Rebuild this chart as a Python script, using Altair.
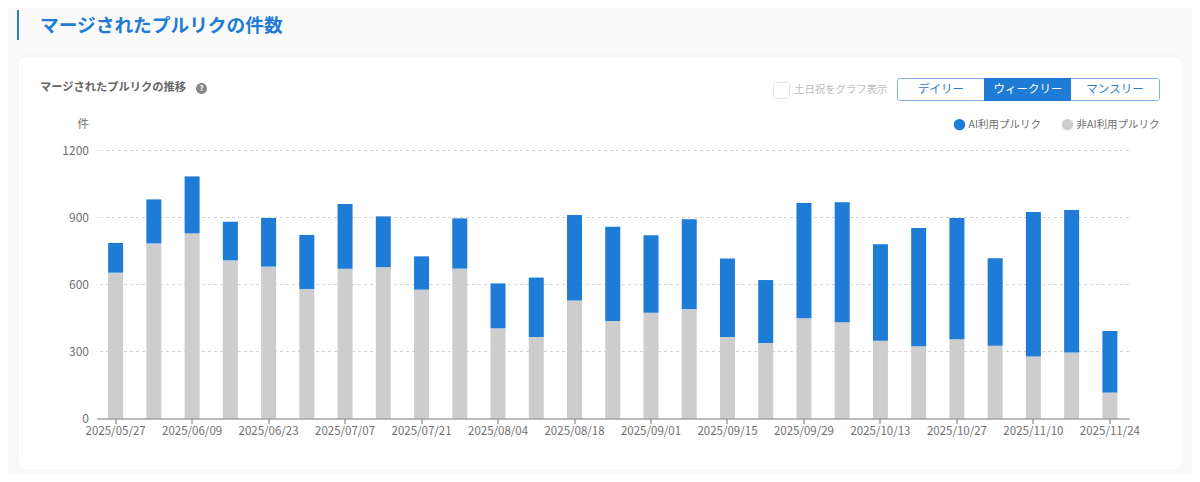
import altair as alt
import pandas as pd

FONT = "Noto Sans CJK JP"
PL, PT = 96.5, 150.5      # plot area's top-left in the picture
PW, PH = 1032.5, 268

weeks = ["2025/05/27","2025/06/02","2025/06/09","2025/06/16","2025/06/23","2025/06/30","2025/07/07",
         "2025/07/14","2025/07/21","2025/07/28","2025/08/04","2025/08/11","2025/08/18","2025/08/25",
         "2025/09/01","2025/09/08","2025/09/15","2025/09/22","2025/09/29","2025/10/06","2025/10/13",
         "2025/10/20","2025/10/27","2025/11/03","2025/11/10","2025/11/17","2025/11/24"]
non_ai = [653,784,829,708,680,580,671,678,577,671,404,365,528,437,474,490,365,338,449,431,348,323,355,326,278,296,116]
ai = [133,197,255,173,218,242,289,227,149,225,201,266,383,422,346,402,351,282,516,537,432,530,543,391,647,638,276]
y_ticks = [0, 300, 600, 900, 1200]
grid_values = [300, 600, 900, 1200]
AI_NAME = "AI利用プルリク"
NON_NAME = "非AI利用プルリク"

rows = []
for w, n, a in zip(weeks, non_ai, ai):
    rows.append({"week": w, "series": NON_NAME, "value": n, "o": 0})
    rows.append({"week": w, "series": AI_NAME, "value": a, "o": 1})
df = pd.DataFrame(rows)

y_scale = alt.Scale(domain=[0, 1200], nice=False)
y_axis = alt.Axis(values=y_ticks, format="d", labelFont=FONT, labelFontSize=12, labelColor="#707070",
                  domain=False, ticks=False, labelPadding=8, grid=False, zindex=1)

grid = alt.Chart(pd.DataFrame({"g": grid_values})).mark_rule(
    color="#d4d4d4", strokeDash=[3, 3], strokeWidth=1
).encode(y=alt.Y("g:Q", scale=y_scale, axis=y_axis, title=None))

bars = alt.Chart(df).mark_bar(size=15).encode(
    x=alt.X("week:N", sort=weeks, title=None,
            scale=alt.Scale(domain=weeks, paddingInner=0, paddingOuter=0),
            axis=alt.Axis(values=weeks[::2], labelAngle=0, labelFont=FONT, labelFontSize=11.5, labelColor="#707070",
                          labelPadding=2, tickColor="#777777", tickSize=5, domainColor="#777777", grid=False,
                          labelOverlap=False, labelFlush=False, zindex=1)),
    y=alt.Y("value:Q", stack="zero", title=None, scale=y_scale, axis=y_axis),
    color=alt.Color("series:N",
                    scale=alt.Scale(domain=[AI_NAME, NON_NAME], range=["#1e7bd6", "#cdcdcd"]),
                    legend=alt.Legend(title=None, orient="none", legendX=953.5 - PL, legendY=118.5 - PT,
                                      direction="horizontal", symbolType="circle", symbolSize=130,
                                      symbolStrokeWidth=0, labelFont=FONT, labelFontSize=10.5,
                                      labelColor="#707070", columnPadding=20, labelOffset=3, padding=0)),
    order=alt.Order("o:Q"),
)

def box(x, y, w, h, fill, stroke=None, sw=1, r=0):
    kw = dict(fill=fill, cornerRadius=r)
    if stroke:
        kw.update(stroke=stroke, strokeWidth=sw)
    return alt.Chart(pd.DataFrame({"a": [0]})).mark_rect(**kw).encode(
        x=alt.value(x - PL), x2=alt.value(x + w - PL), y=alt.value(y - PT), y2=alt.value(y + h - PT))

def text(x, y, s, size, color, weight="normal", align="left"):
    return alt.Chart(pd.DataFrame({"a": [0]})).mark_text(
        text=s, font=FONT, fontSize=size, color=color, fontWeight=weight, align=align, baseline="middle"
    ).encode(x=alt.value(x - PL), y=alt.value(y - PT))

layers = [
    box(18, 56, 1164, 414, "#ffffff", "#f3f3f3", 1, 8),
    box(17, 10, 2, 30, "#2b7cc4"),
    text(40, 26, "マージされたプルリクの件数", 18.7, "#1e7bd6", "bold"),
    text(40, 88, "マージされたプルリクの推移", 11.25, "#666666", "bold"),
    box(196, 83, 11, 11, "#888888", r=5.5),
    text(201.5, 88.5, "?", 8, "#ffffff", "bold", "center"),
    box(773.5, 82.5, 16, 16, "#ffffff", "#e6e6e6", 1, 2),
    text(794, 90, "土日祝をグラフ表示", 10.4, "#bbbbbb"),
    box(897.5, 78.5, 262, 22, "#ffffff", "#7fb2e3", 1, 2),
    box(984, 78, 87, 23, "#1e7bd6"),
    text(941, 90, "デイリー", 11.5, "#2b7cc4", align="center"),
    text(1028, 90, "ウィークリー", 11.5, "#ffffff", align="center"),
    text(1115, 90, "マンスリー", 11.5, "#2b7cc4", align="center"),
    text(89, 124.5, "件", 11.5, "#707070", align="right"),
    grid,
    bars,
]

chart = alt.layer(*layers).properties(
    width=PW, height=PH, autosize=alt.AutoSizeParams(type="none"),
    padding={"left": PL - 8, "top": PT - 8, "right": 1192 - PL - PW, "bottom": 474 - PT - PH},
    background="#fafafa",
).configure_view(stroke=None)

chart.save("out.html", embed_options={"renderer": "svg", "actions": False})
